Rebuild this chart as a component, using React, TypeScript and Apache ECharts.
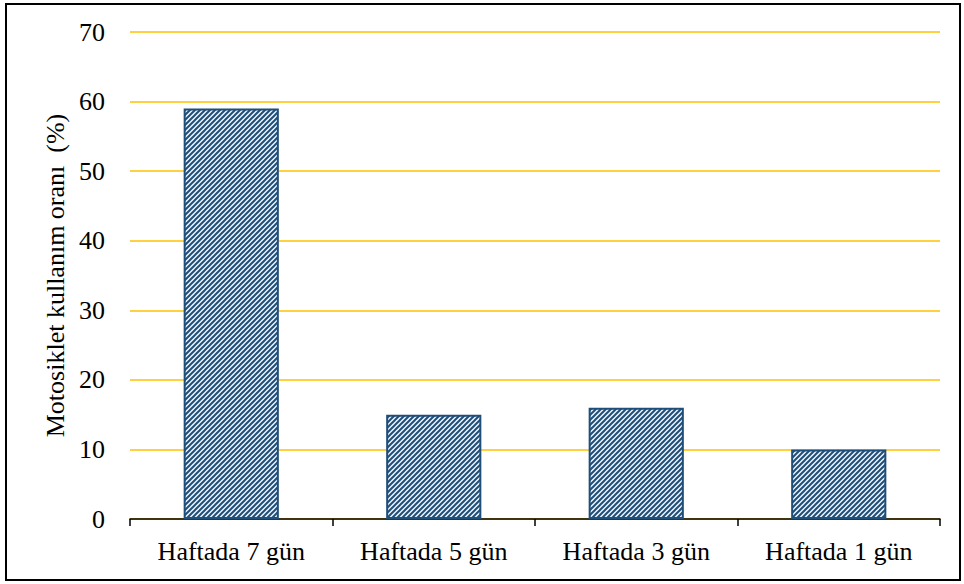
import React, { useEffect, useRef } from "react";
import * as echarts from "echarts";

const categories = ["Haftada 7 gün", "Haftada 5 gün", "Haftada 3 gün", "Haftada 1 gün"];
const values = [59, 15, 16, 10];
const yTicks = [0, 10, 20, 30, 40, 50, 60, 70];
const yAxisTitle = "Motosiklet kullanım oranı  (%)";

function makePattern(): HTMLCanvasElement {
  const s = 5;
  const c = document.createElement("canvas");
  c.width = s;
  c.height = s;
  const ctx = c.getContext("2d")!;
  ctx.fillStyle = "#eef6fc";
  ctx.fillRect(0, 0, s, s);
  ctx.strokeStyle = "#1f4e79";
  ctx.lineWidth = 2;
  ctx.beginPath();
  ctx.moveTo(-1, 1); ctx.lineTo(1, -1);
  ctx.moveTo(0, s); ctx.lineTo(s, 0);
  ctx.moveTo(s - 1, s + 1); ctx.lineTo(s + 1, s - 1);
  ctx.stroke();
  return c;
}

export default function App() {
  const ref = useRef<HTMLDivElement>(null);
  useEffect(() => {
    if (!ref.current) return;
    const chart = echarts.init(ref.current, undefined, { renderer: "svg" });
    const pattern = makePattern();
    chart.setOption({
      animation: false,
      backgroundColor: "#ffffff",
      grid: { left: 130, right: 24, top: 32, bottom: 65 },
      xAxis: {
        type: "category",
        data: categories,
        axisLine: { show: true, lineStyle: { color: "#000", width: 1.5 } },
        axisTick: { show: true, alignWithLabel: false, length: 7, lineStyle: { color: "#000", width: 1.5 } },
        axisLabel: { color: "#000", fontFamily: "Liberation Serif", fontSize: 26, margin: 19 },
      },
      yAxis: {
        type: "value",
        min: 0,
        max: 70,
        interval: 10,
        name: yAxisTitle,
        nameLocation: "middle",
        nameGap: 59,
        nameRotate: 90,
        nameTextStyle: { color: "#000", fontFamily: "Liberation Serif", fontSize: 26 },
        axisLine: { show: false },
        axisTick: { show: false },
        axisLabel: {
          color: "#000",
          fontFamily: "Liberation Serif",
          fontSize: 26,
          margin: 25,
          formatter: (v: number) => (yTicks.includes(v) ? String(v) : ""),
        },
        splitLine: { show: true, lineStyle: { color: "#ffc000", width: 1.5 } },
      },
      series: [
        {
          type: "bar",
          data: values,
          barWidth: "47%",
          itemStyle: {
            color: { image: pattern, repeat: "repeat" } as any,
            borderColor: "#1f4e79",
            borderWidth: 2,
          },
        },
      ],
      graphic: [
        {
          type: "rect",
          shape: { x: 6, y: 4, width: 954, height: 576 },
          style: { fill: "none", stroke: "#000", lineWidth: 2 },
          silent: true,
        },
      ],
    });
    return () => chart.dispose();
  }, []);
  return <div ref={ref} style={{ width: 964, height: 584, position: "absolute", left: 0, top: 0 }} />;
}
